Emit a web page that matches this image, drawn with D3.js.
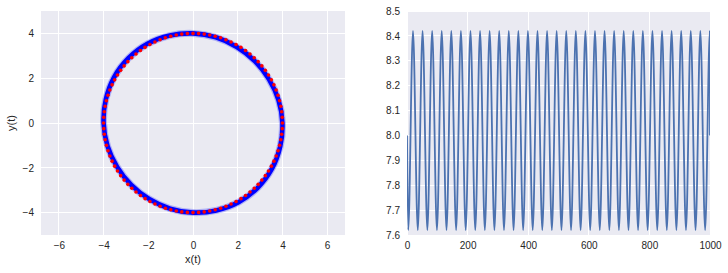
<!DOCTYPE html>
<html><head><meta charset="utf-8">
<script src="https://cdn.jsdelivr.net/npm/d3@7"></script>
<style>
body{margin:0;background:#fff}
svg{display:block}
text{font-family:"Liberation Sans",Arial,sans-serif;fill:#262626}
</style>
</head><body>
<svg id="c" width="728" height="273"></svg>
<script>
// ---- left panel: trajectory ----
const circleXTicks = [-6, -4, -2, 0, 2, 4, 6];
const circleYTicks = [-4, -2, 0, 2, 4];
// blue trajectory band: polar samples (degrees, radius)
const blueAngles = [0, 15, 30, 45, 60, 75, 90, 105, 120, 135, 150, 165, 180, 195, 210, 225, 240, 255, 270, 285, 300, 315, 330, 345];
const blueRadii  = [4.00, 3.96, 3.92, 3.91, 3.92, 3.96, 4.00, 4.04, 4.08, 4.09, 4.08, 4.04, 4.00, 3.96, 3.92, 3.91, 3.92, 3.96, 4.00, 4.04, 4.08, 4.09, 4.08, 4.04];
// red dots: polar angle (degrees) of each dot, all at radius 4
const redAngles = [0, 3.6, 7.2, 10.8, 14.4, 18, 21.6, 25.2, 28.8, 32.4, 36, 39.6, 43.2, 46.8, 50.4, 54, 57.6, 61.2, 64.8, 68.4, 72, 75.6, 79.2, 82.8, 86.4, 90, 93.6, 97.2, 100.8, 104.4, 108, 111.6, 115.2, 118.8, 122.4, 126, 129.6, 133.2, 136.8, 140.4, 144, 147.6, 151.2, 154.8, 158.4, 162, 165.6, 169.2, 172.8, 176.4, 180, 183.6, 187.2, 190.8, 194.4, 198, 201.6, 205.2, 208.8, 212.4, 216, 219.6, 223.2, 226.8, 230.4, 234, 237.6, 241.2, 244.8, 248.4, 252, 255.6, 259.2, 262.8, 266.4, 270, 273.6, 277.2, 280.8, 284.4, 288, 291.6, 295.2, 298.8, 302.4, 306, 309.6, 313.2, 316.8, 320.4, 324, 327.6, 331.2, 334.8, 338.4, 342, 345.6, 349.2, 352.8, 356.4];
const redRadius = 4.0;

// ---- right panel: energy vs step (extrema) ----
const energyT = [0, 4.0, 19.8, 35.6, 51.4, 67.2, 83.0, 98.8, 114.6, 130.4, 146.2, 162.1, 177.9, 193.7, 209.5, 225.3, 241.1, 256.9, 272.7, 288.5, 304.3, 320.1, 335.9, 351.7, 367.5, 383.3, 399.1, 414.9, 430.7, 446.5, 462.3, 478.1, 493.9, 509.8, 525.6, 541.4, 557.2, 573.0, 588.8, 604.6, 620.4, 636.2, 652.0, 667.8, 683.6, 699.4, 715.2, 731.0, 746.8, 762.6, 778.4, 794.2, 810.0, 825.9, 841.7, 857.5, 873.3, 889.1, 904.9, 920.7, 936.5, 952.3, 968.1, 983.9, 999.7, 1000];
const energyV = [8.00, 7.62, 8.42, 7.62, 8.42, 7.62, 8.42, 7.62, 8.42, 7.62, 8.42, 7.62, 8.42, 7.62, 8.42, 7.62, 8.42, 7.62, 8.42, 7.62, 8.42, 7.62, 8.42, 7.62, 8.42, 7.62, 8.42, 7.62, 8.42, 7.62, 8.42, 7.62, 8.42, 7.62, 8.42, 7.62, 8.42, 7.62, 8.42, 7.62, 8.42, 7.62, 8.42, 7.62, 8.42, 7.62, 8.42, 7.62, 8.42, 7.62, 8.42, 7.62, 8.42, 7.62, 8.42, 7.62, 8.42, 7.62, 8.42, 7.62, 8.42, 7.62, 8.42, 7.62, 8.42, 8.00];
const energyXTicks = [0, 200, 400, 600, 800, 1000];
const energyYTicks = [7.6, 7.7, 7.8, 7.9, 8.0, 8.1, 8.2, 8.3, 8.4, 8.5];

const svg = d3.select("#c");
const BG = "#EAEAF2";
const fmtInt = d => d3.format("d")(d).replace("-", "\u2212");

function panel(x0, x1, y0, y1, xs, ys, xTicks, yTicks, xfmt, yfmt, id) {
  const g = svg.append("g");
  g.append("rect").attr("x", x0).attr("y", y0).attr("width", x1 - x0).attr("height", y1 - y0).attr("fill", BG);
  g.append("clipPath").attr("id", id).append("rect").attr("x", x0).attr("y", y0).attr("width", x1 - x0).attr("height", y1 - y0);
  const grid = g.append("g").attr("stroke", "#fff").attr("stroke-width", 1).attr("shape-rendering", "crispEdges");
  grid.selectAll(".vx").data(xTicks).join("line")
    .attr("x1", d => xs(d)).attr("x2", d => xs(d)).attr("y1", y0).attr("y2", y1);
  grid.selectAll(".hy").data(yTicks).join("line")
    .attr("y1", d => ys(d)).attr("y2", d => ys(d)).attr("x1", x0).attr("x2", x1);
  // axes (tick labels only)
  const ax = d3.axisBottom(xs).tickValues(xTicks).tickFormat(xfmt).tickSize(0).tickPadding(7);
  const xa = g.append("g").attr("transform", `translate(0,${y1})`).call(ax);
  const ay = d3.axisLeft(ys).tickValues(yTicks).tickFormat(yfmt).tickSize(0).tickPadding(7);
  const ya = g.append("g").attr("transform", `translate(${x0},0)`).call(ay);
  [xa, ya].forEach(a => {
    a.select(".domain").remove();
    a.selectAll("text").attr("font-size", 10).attr("fill", "#262626").attr("font-family", '"Liberation Sans",Arial,sans-serif');
  });
  return g;
}

// ---- left ----
const L = {x0: 41, x1: 345, y0: 11, y1: 235};
const xs1 = d3.scaleLinear().domain([-6.8, 6.8]).range([L.x0, L.x1]);
const ys1 = d3.scaleLinear().domain([-5, 5]).range([L.y1, L.y0]);
const g1 = panel(L.x0, L.x1, L.y0, L.y1, xs1, ys1, circleXTicks, circleYTicks, fmtInt, fmtInt, "clipL");

const bluePts = blueAngles.map((a, i) => [blueRadii[i] * Math.cos(a * Math.PI / 180), blueRadii[i] * Math.sin(a * Math.PI / 180)]);
const ringLine = d3.line().x(d => xs1(d[0])).y(d => ys1(d[1])).curve(d3.curveCardinalClosed.tension(0));
const pl = g1.append("g").attr("clip-path", "url(#clipL)");
pl.append("path").attr("d", ringLine(bluePts)).attr("fill", "none").attr("stroke", "#0000FF").attr("stroke-opacity", 0.25).attr("stroke-width", 7);
pl.append("path").attr("d", ringLine(bluePts)).attr("fill", "none").attr("stroke", "#0000FF").attr("stroke-width", 4.6);
const redPts = redAngles.map(a => [redRadius * Math.cos(a * Math.PI / 180), redRadius * Math.sin(a * Math.PI / 180)]);
pl.selectAll("circle.red").data(redPts).join("circle")
  .attr("cx", d => xs1(d[0])).attr("cy", d => ys1(d[1])).attr("r", 1.8).attr("fill", "#FF0000");

svg.append("text").attr("x", xs1(0)).attr("y", 263).attr("text-anchor", "middle").attr("font-size", 11).text("x(t)");
svg.append("text").attr("transform", `translate(15,${ys1(0)}) rotate(-90)`).attr("text-anchor", "middle").attr("font-size", 11).text("y(t)");

// ---- right ----
const R = {x0: 407, x1: 710, y0: 11, y1: 235};
const xs2 = d3.scaleLinear().domain([0, 1000]).range([R.x0, R.x1]);
const ys2 = d3.scaleLinear().domain([7.6, 8.5]).range([R.y1, R.y0]);
const g2 = panel(R.x0, R.x1, R.y0, R.y1, xs2, ys2, energyXTicks, energyYTicks, d3.format("d"), d3.format(".1f"), "clipR");
const eData = energyT.map((t, i) => [t, energyV[i]]);
g2.append("g").attr("clip-path", "url(#clipR)").append("path")
  .attr("d", d3.line().x(d => xs2(d[0])).y(d => ys2(d[1])).curve(d3.curveMonotoneX)(eData))
  .attr("fill", "none").attr("stroke", "#4C72B0").attr("stroke-width", 1.8).attr("stroke-linejoin", "round");
</script>
</body></html>
